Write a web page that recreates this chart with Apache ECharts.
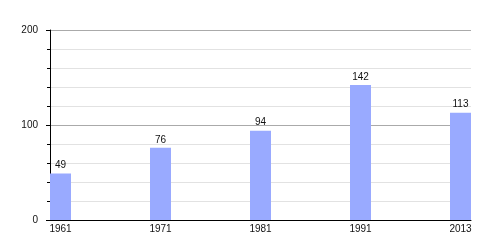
<!DOCTYPE html>
<html>
<head>
<meta charset="utf-8">
<script src="https://cdn.jsdelivr.net/npm/echarts@6/dist/echarts.min.js"></script>
<style>html,body{margin:0;padding:0;background:#fff}#c{width:500px;height:250px}</style>
</head>
<body>
<div id="c"></div>
<script>
var years = ['1961', '1971', '1981', '1991', '2013'];
var population = [49, 76, 94, 142, 113];
var yTicks = [0, 100, 200];

var positions = years.map(function (_, i) { return i; });
var chart = echarts.init(document.getElementById('c'), null, { renderer: 'canvas' });
var font = 'Liberation Sans, Arial, sans-serif';
chart.setOption({
  animation: false,
  backgroundColor: '#fff',
  grid: { left: 50, right: 29, top: 30, bottom: 30, containLabel: false },
  xAxis: {
    type: 'value',
    min: -0.105,
    max: positions.length - 1 + 0.105,
    axisLine: { show: true, onZero: false, lineStyle: { color: '#000', width: 1 } },
    axisTick: { show: false },
    splitLine: { show: false },
    axisLabel: {
      customValues: positions,
      formatter: function (v) { return years[Math.round(v)]; },
      color: '#111', fontFamily: font, fontSize: 10, margin: 4
    }
  },
  yAxis: {
    type: 'value',
    min: yTicks[0],
    max: yTicks[yTicks.length - 1],
    interval: 100,
    axisLine: { show: true, onZero: false, lineStyle: { color: '#000', width: 1 } },
    axisTick: { show: true, length: 4, lineStyle: { color: '#000' } },
    minorTick: { show: true, splitNumber: 5, length: 3, lineStyle: { color: '#000' } },
    splitLine: { show: true, lineStyle: { color: '#aaa', width: 1 } },
    minorSplitLine: { show: true, lineStyle: { color: '#e2e2e2', width: 1 } },
    axisLabel: { color: '#111', fontFamily: font, fontSize: 10, margin: 12 }
  },
  series: [{
    type: 'bar',
    data: positions.map(function (p, i) { return [p, population[i]]; }),
    barWidth: 21,
    itemStyle: { color: '#99aaff' },
    label: { show: true, position: 'top', distance: 3, color: '#111', fontFamily: font, fontSize: 10 }
  }]
});
</script>
</body>
</html>
